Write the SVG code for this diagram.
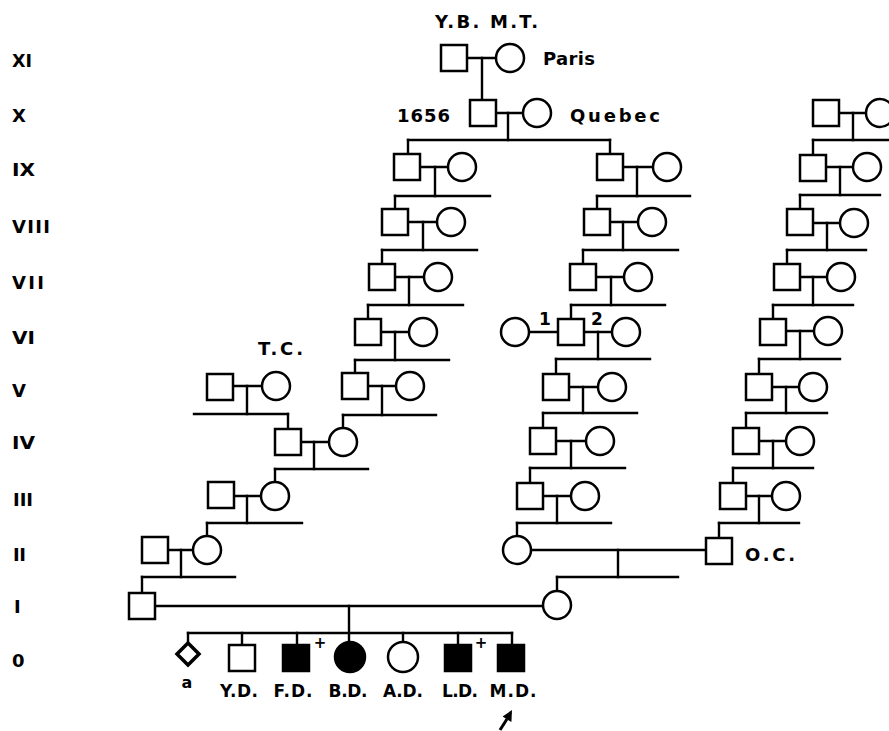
<svg xmlns="http://www.w3.org/2000/svg" width="889" height="731" viewBox="0 0 889 731">
<style>
.sq{fill:#fff;stroke:#000;stroke-width:2.5}
.ci{fill:#fff;stroke:#000;stroke-width:2.5}
.aff{fill:#000}
.ln{stroke:#000;stroke-width:2.4;fill:none;stroke-linecap:square}
text{font-family:"DejaVu Sans","Liberation Sans",sans-serif;font-weight:bold;fill:#000}
.g{font-size:18px}
.t{font-size:18px}
.c{font-size:17px}
</style>
<defs>
<rect id="S" x="-13" y="-13" width="26" height="26"/>
</defs>
<rect width="889" height="731" fill="#fff"/>

<g id="generation-labels" class="g">
<text x="12" y="67" textLength="20" lengthAdjust="spacingAndGlyphs">XI</text>
<text x="12" y="122">X</text>
<text x="12" y="176" textLength="23" lengthAdjust="spacingAndGlyphs">IX</text>
<text x="12" y="233" textLength="38" lengthAdjust="spacing">VIII</text>
<text x="12" y="289" textLength="32" lengthAdjust="spacing">VII</text>
<text x="12" y="344" textLength="23" lengthAdjust="spacingAndGlyphs">VI</text>
<text x="12" y="397">V</text>
<text x="12" y="449" textLength="23" lengthAdjust="spacingAndGlyphs">IV</text>
<text x="13" y="506" textLength="20" lengthAdjust="spacing">III</text>
<text x="13" y="561" textLength="13" lengthAdjust="spacing">II</text>
<text x="14" y="613">I</text>
<text x="12" y="667">0</text>
</g>

<g id="connectors" class="ln">
<!-- marriage lines -->
<path d="M467 58H496 M496 113H523 M420 167H448 M623 167H653 M408 222H437 M610 222H638 M395 277H424 M596 277H624 M381 332H409 M530 332H558 M584 332H612 M233 386H262 M368 386H396 M569 387H598 M301 442H329 M556 441H586 M234 496H261 M543 496H571 M168 550H193 M532 550H706 M155 606H543 M839 113H866 M826 167H853 M813 223H840 M800 277H827 M786 331H814 M772 387H799 M759 441H786 M746 496H772"/>
<!-- descent verticals -->
<path d="M482 58V100 M508 113V140 M435 167V196 M637 167V196 M423 222V250 M623 222V250 M409 277V305 M611 277V305 M395 332V360 M598 332V359 M247 386V414 M382 386V415 M583 387V413 M314 442V469 M571 441V468 M247 496V523 M557 496V523 M181 550V577 M618 550V577 M349 606V641 M853 113V140 M840 167V195 M827 223V250 M813 277V305 M800 331V359 M786 387V413 M773 441V468 M759 496V523"/>
<!-- sibship lines -->
<path d="M408 140H610 M395 196H490 M597 196H690 M382 250H477 M583 250H678 M368 305H463 M571 305H665 M355 360H449 M556 359H650 M194 414H288 M343 415H436 M543 413H637 M275 469H368 M530 468H625 M207 523H302 M517 523H611 M142 577H235 M557 577H678 M188 633H512 M813 140H889 M800 195H880 M787 250H866 M773 305H853 M759 359H840 M746 413H827 M733 468H813 M719 523H799"/>
<!-- drops to children -->
<path d="M408 140V154 M610 140V154 M395 196V209 M382 250V264 M368 305V319 M355 360V373 M343 415V427 M288 414V429 M275 469V481 M207 523V535 M142 577V593 M597 196V209 M583 250V264 M571 305V319 M556 359V374 M543 413V428 M530 468V483 M517 523V535 M557 577V590 M813 140V155 M800 195V209 M787 250V264 M773 305V319 M759 359V374 M746 413V428 M733 468V483 M719 523V538 M188 633V642 M242 633V645 M297 633V645 M403 633V641 M458 633V645 M512 633V645"/>
</g>

<g id="gen-XI">
<use id="YB" href="#S" class="sq" x="454" y="58"/>
<circle id="MT" class="ci" cx="510" cy="58" r="14"/>
</g>
<g id="gen-X">
<use id="X-m" href="#S" class="sq" x="483" y="113"/>
<circle id="X-f" class="ci" cx="537" cy="113" r="14"/>
<use id="XR-m" href="#S" class="sq" x="826" y="113"/>
<circle id="XR-f" class="ci" cx="880" cy="113" r="14"/>
</g>
<g id="gen-IX">
<use id="IXL-m" href="#S" class="sq" x="407" y="167"/>
<circle id="IXL-f" class="ci" cx="462" cy="167" r="14"/>
<use id="IXM-m" href="#S" class="sq" x="610" y="167"/>
<circle id="IXM-f" class="ci" cx="667" cy="167" r="14"/>
<use id="IXR-m" href="#S" class="sq" x="813" y="168"/>
<circle id="IXR-f" class="ci" cx="867" cy="167" r="14"/>
</g>
<g id="gen-VIII">
<use id="VIIIL-m" href="#S" class="sq" x="395" y="222"/>
<circle id="VIIIL-f" class="ci" cx="451" cy="222" r="14"/>
<use id="VIIIM-m" href="#S" class="sq" x="597" y="222"/>
<circle id="VIIIM-f" class="ci" cx="652" cy="222" r="14"/>
<use id="VIIIR-m" href="#S" class="sq" x="800" y="222"/>
<circle id="VIIIR-f" class="ci" cx="854" cy="223" r="14"/>
</g>
<g id="gen-VII">
<use id="VIIL-m" href="#S" class="sq" x="382" y="277"/>
<circle id="VIIL-f" class="ci" cx="438" cy="277" r="14"/>
<use id="VIIM-m" href="#S" class="sq" x="583" y="277"/>
<circle id="VIIM-f" class="ci" cx="638" cy="277" r="14"/>
<use id="VIIR-m" href="#S" class="sq" x="787" y="277"/>
<circle id="VIIR-f" class="ci" cx="841" cy="277" r="14"/>
</g>
<g id="gen-VI">
<use id="VIL-m" href="#S" class="sq" x="368" y="332"/>
<circle id="VIL-f" class="ci" cx="423" cy="332" r="14"/>
<circle id="VIM-f1" class="ci" cx="515" cy="332" r="14"/>
<use id="VIM-m" href="#S" class="sq" x="571" y="332"/>
<circle id="VIM-f2" class="ci" cx="626" cy="332" r="14"/>
<use id="VIR-m" href="#S" class="sq" x="773" y="332"/>
<circle id="VIR-f" class="ci" cx="828" cy="331" r="14"/>
<text class="c" x="539" y="325">1</text>
<text class="c" x="591" y="325">2</text>
</g>
<g id="gen-V">
<use id="VTC-m" href="#S" class="sq" x="220" y="387"/>
<circle id="VTC-f" class="ci" cx="276" cy="386" r="14"/>
<text class="t" x="258" y="355" textLength="45" lengthAdjust="spacing">T.C.</text>
<use id="VL-m" href="#S" class="sq" x="355" y="386"/>
<circle id="VL-f" class="ci" cx="410" cy="386" r="14"/>
<use id="VM-m" href="#S" class="sq" x="556" y="387"/>
<circle id="VM-f" class="ci" cx="612" cy="387" r="14"/>
<use id="VR-m" href="#S" class="sq" x="759" y="387"/>
<circle id="VR-f" class="ci" cx="813" cy="387" r="14"/>
</g>
<g id="gen-IV">
<use id="IVL-m" href="#S" class="sq" x="288" y="442"/>
<circle id="IVL-f" class="ci" cx="343" cy="442" r="14"/>
<use id="IVM-m" href="#S" class="sq" x="543" y="441"/>
<circle id="IVM-f" class="ci" cx="600" cy="441" r="14"/>
<use id="IVR-m" href="#S" class="sq" x="746" y="441"/>
<circle id="IVR-f" class="ci" cx="800" cy="441" r="14"/>
</g>
<g id="gen-III">
<use id="IIIL-m" href="#S" class="sq" x="221" y="495"/>
<circle id="IIIL-f" class="ci" cx="275" cy="496" r="14"/>
<use id="IIIM-m" href="#S" class="sq" x="530" y="496"/>
<circle id="IIIM-f" class="ci" cx="585" cy="496" r="14"/>
<use id="IIIR-m" href="#S" class="sq" x="733" y="496"/>
<circle id="IIIR-f" class="ci" cx="786" cy="496" r="14"/>
</g>
<g id="gen-II">
<use id="IIL-m" href="#S" class="sq" x="155" y="550"/>
<circle id="IIL-f" class="ci" cx="207" cy="550" r="14"/>
<circle id="IIM-f" class="ci" cx="517" cy="550" r="14"/>
<use id="OC" href="#S" class="sq" x="719" y="551"/>
<text class="t" x="745" y="561" textLength="50" lengthAdjust="spacing">O.C.</text>
</g>
<g id="gen-I">
<use id="I-m" href="#S" class="sq" x="142" y="606"/>
<circle id="I-f" class="ci" cx="557" cy="605" r="14"/>
</g>
<g id="gen-0">
<g id="a"><polygon points="188,643 199,654 188,665 177,654" fill="#fff" stroke="#000" stroke-width="3.5"/><text x="187" y="688" text-anchor="middle" font-size="16">a</text></g>
<g id="YD"><use href="#S" class="sq" x="242" y="658"/><text class="c" x="239" y="697" text-anchor="middle" textLength="38" lengthAdjust="spacing">Y.D.</text></g>
<g id="FD"><use href="#S" class="sq aff" x="296" y="658"/><text x="320" y="648" text-anchor="middle" font-size="15">+</text><text class="c" x="293" y="697" text-anchor="middle" textLength="39" lengthAdjust="spacing">F.D.</text></g>
<g id="BD"><circle class="ci aff" cx="350" cy="657" r="15"/><text class="c" x="348" y="697" text-anchor="middle" textLength="39" lengthAdjust="spacing">B.D.</text></g>
<g id="AD"><circle class="ci" cx="403" cy="657" r="15"/><text class="c" x="403" y="697" text-anchor="middle" textLength="40" lengthAdjust="spacing">A.D.</text></g>
<g id="LD"><use href="#S" class="sq aff" x="458" y="658"/><text x="481" y="648" text-anchor="middle" font-size="15">+</text><text class="c" x="460" y="697" text-anchor="middle" textLength="36" lengthAdjust="spacing">L.D.</text></g>
<g id="MD"><use href="#S" class="sq aff" x="511" y="658"/><text class="c" x="513" y="697" text-anchor="middle" textLength="47" lengthAdjust="spacing">M.D.</text></g>
</g>

<g id="proband-arrow">
<line x1="500" y1="730" x2="507" y2="719" stroke="#000" stroke-width="3"/>
<polygon points="512,710 511.4,722 502.6,716.5" fill="#000"/>
</g>

<g id="annotations" class="t">
<text x="435" y="28" textLength="103" lengthAdjust="spacing">Y.B. M.T.</text>
<text x="543" y="65" textLength="52" lengthAdjust="spacing">Paris</text>
<text x="397" y="122" textLength="53" lengthAdjust="spacing">1656</text>
<text x="570" y="122" textLength="90" lengthAdjust="spacing">Quebec</text>
</g>
</svg>
